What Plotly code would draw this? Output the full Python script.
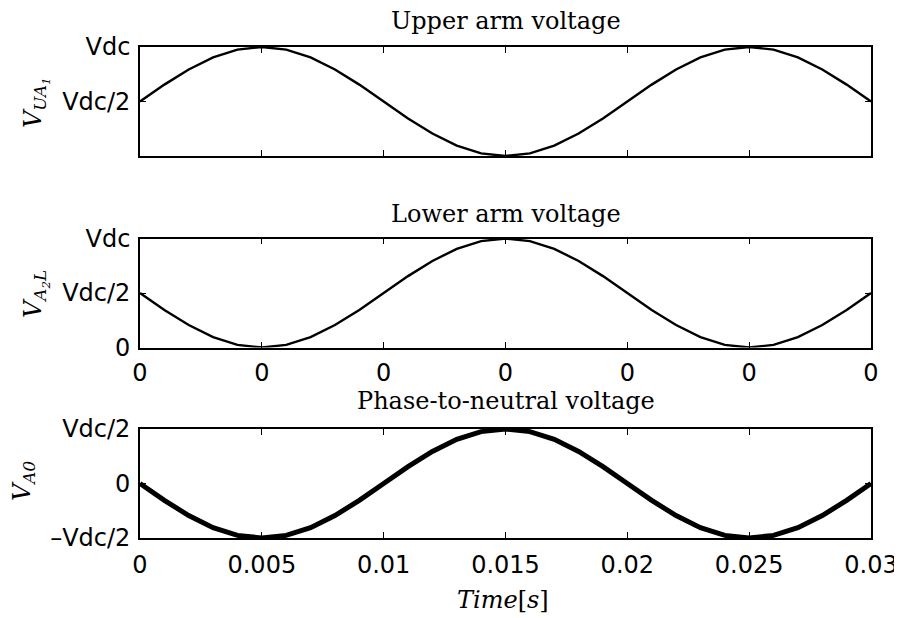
import plotly.graph_objects as go

# ---- data ----
time_s = [0.000, 0.001, 0.002, 0.003, 0.004, 0.005, 0.006, 0.007, 0.008, 0.009,
          0.010, 0.011, 0.012, 0.013, 0.014, 0.015, 0.016, 0.017, 0.018, 0.019,
          0.020, 0.021, 0.022, 0.023, 0.024, 0.025, 0.026, 0.027, 0.028, 0.029, 0.030]

upper_arm = [0.5, 0.655, 0.794, 0.905, 0.976, 1.0, 0.976, 0.905, 0.794, 0.655,
             0.5, 0.345, 0.206, 0.095, 0.024, 0.0, 0.024, 0.095, 0.206, 0.345,
             0.5, 0.655, 0.794, 0.905, 0.976, 1.0, 0.976, 0.905, 0.794, 0.655, 0.5]

lower_arm = [0.5, 0.345, 0.206, 0.095, 0.024, 0.0, 0.024, 0.095, 0.206, 0.345,
             0.5, 0.655, 0.794, 0.905, 0.976, 1.0, 0.976, 0.905, 0.794, 0.655,
             0.5, 0.345, 0.206, 0.095, 0.024, 0.0, 0.024, 0.095, 0.206, 0.345, 0.5]

phase_neutral = [0.0, -0.155, -0.294, -0.405, -0.476, -0.5, -0.476, -0.405, -0.294, -0.155,
                 0.0, 0.155, 0.294, 0.405, 0.476, 0.5, 0.476, 0.405, 0.294, 0.155,
                 0.0, -0.155, -0.294, -0.405, -0.476, -0.5, -0.476, -0.405, -0.294, -0.155, 0.0]

x_tickvals = [0, 0.005, 0.01, 0.015, 0.02, 0.025, 0.03]
x_ticktext_bottom = ["0", "0.005", "0.01", "0.015", "0.02", "0.025", "0.03"]
x_ticktext_middle = ["0", "0", "0", "0", "0", "0", "0"]

y1_tickvals = [0, 0.5, 1]
y1_ticktext = ["", "Vdc/2", "Vdc"]
y2_tickvals = [0, 0.5, 1]
y2_ticktext = ["0", "Vdc/2", "Vdc"]
y3_tickvals = [-0.5, 0, 0.5]
y3_ticktext = ["\u2013Vdc/2", "0", "Vdc/2"]

titles = ["Upper arm voltage", "Lower arm voltage", "Phase-to-neutral voltage"]

# ---- figure (page has an 8px body margin, so work in page pixels minus 8) ----
OFF = 8
W, H = 902 - OFF, 618 - OFF
L, R = 140 - OFF, 871 - OFF

def py(px):
    return 1 - (px - OFF) / H

def px_x(px):
    return (px - OFF - L) / (R - L)

TICKFONT = dict(family="DejaVu Sans", size=24, color="black")
SERIF = "DejaVu Serif"

fig = go.Figure()
fig.add_trace(go.Scatter(x=time_s, y=upper_arm, mode="lines",
                         line=dict(color="black", width=2.4), xaxis="x", yaxis="y"))
fig.add_trace(go.Scatter(x=time_s, y=lower_arm, mode="lines",
                         line=dict(color="black", width=2.4), xaxis="x2", yaxis="y2"))
fig.add_trace(go.Scatter(x=time_s, y=phase_neutral, mode="lines",
                         line=dict(color="black", width=5), xaxis="x3", yaxis="y3"))

common_x = dict(range=[0, 0.03], tickvals=x_tickvals, ticks="inside", ticklen=6,
                tickcolor="black", tickwidth=1.2, showline=True, linecolor="black",
                linewidth=1.6, mirror="ticks", showgrid=False, zeroline=False,
                tickfont=TICKFONT, automargin=False, ticklabeloverflow="allow")
common_y = dict(ticks="inside", ticklen=6, tickcolor="black", tickwidth=1.2,
                showline=True, linecolor="black", linewidth=1.6, mirror="ticks",
                showgrid=False, zeroline=False, tickfont=TICKFONT, automargin=False,
                ticklabelstandoff=3, ticklabeloverflow="allow")

doms = [[py(156), py(47)], [py(347.5), py(238.5)], [py(538), py(429)]]

fig.update_layout(
    width=W, height=H,
    margin=dict(l=L, r=W - R, t=0, b=0),
    paper_bgcolor="white", plot_bgcolor="white",
    showlegend=False,
    xaxis=dict(common_x, domain=[0, 1], anchor="y", showticklabels=False),
    yaxis=dict(common_y, domain=doms[0], anchor="x", range=[0, 1],
               tickvals=y1_tickvals, ticktext=y1_ticktext),
    xaxis2=dict(common_x, domain=[0, 1], anchor="y2", ticktext=x_ticktext_middle,
                ticklabelstandoff=3),
    yaxis2=dict(common_y, domain=doms[1], anchor="x2", range=[0, 1],
                tickvals=y2_tickvals, ticktext=y2_ticktext),
    xaxis3=dict(common_x, domain=[0, 1], anchor="y3", ticktext=x_ticktext_bottom,
                ticklabelstandoff=4),
    yaxis3=dict(common_y, domain=doms[2], anchor="x3", range=[-0.5, 0.5],
                tickvals=y3_tickvals, ticktext=y3_ticktext),
)

ann = []
for t, ypx in zip(titles, [21, 214, 401]):
    ann.append(dict(text=t, xref="paper", yref="paper", x=px_x(506), y=py(ypx),
                    xanchor="center", yanchor="middle", showarrow=False,
                    font=dict(family=SERIF, size=24, color="black")))

ylabels = [("<i>V<sub>UA<sub>1</sub></sub></i>", 36, 103),
           ("<i>V<sub>A<sub>2</sub>L</sub></i>", 36, 294),
           ("<i>V<sub>A0</sub></i>", 23, 481)]
for t, xpx, ypx in ylabels:
    ann.append(dict(text=t, xref="paper", yref="paper", x=px_x(xpx), y=py(ypx),
                    xanchor="center", yanchor="middle", showarrow=False, textangle=-90,
                    font=dict(family=SERIF, size=24, color="black")))

ann.append(dict(text="<i>Time</i>[<i>s</i>]", xref="paper", yref="paper",
                x=px_x(503), y=py(600), xanchor="center", yanchor="middle",
                showarrow=False, font=dict(family=SERIF, size=24, color="black")))

fig.update_layout(annotations=ann)
fig.write_html("out.html")
